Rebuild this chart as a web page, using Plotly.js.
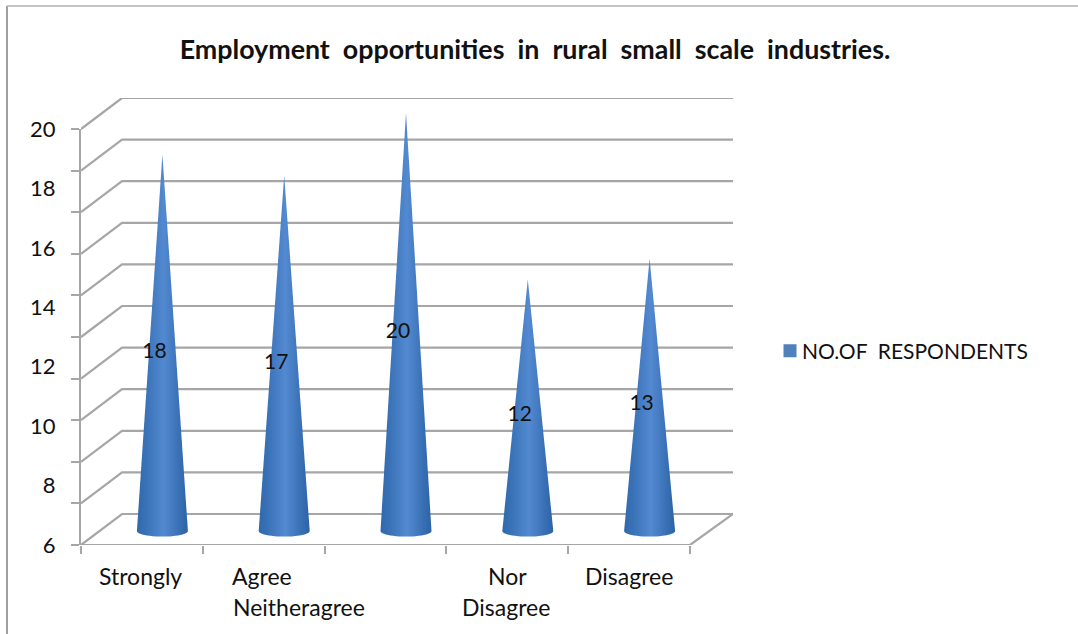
<!DOCTYPE html>
<html>
<head>
<meta charset="utf-8">
<script src="https://cdn.plot.ly/plotly-3.0.1.min.js"></script>
<style>html,body{margin:0;padding:0;background:#fff;overflow:hidden}</style>
</head>
<body>
<div id="chart" style="width:1078px;height:634px"></div>
<script>
// Data
var categoryPositions = [1, 2, 3, 4, 5];
var respondents = [18, 17, 20, 12, 13];
var seriesName = 'NO.OF\u00A0 RESPONDENTS';
var titleText = 'Employment\u00A0 opportunities\u00A0 in\u00A0 rural\u00A0 small\u00A0 scale\u00A0 industries.';
var wallTicks = [0, 2, 4, 6, 8, 10, 12, 14, 16, 18, 20];
var categoryLineText = ['Strongly', 'Agree', 'Neitheragree', 'Nor', 'Disagree', 'Disagree'];
var categoryLineSlot = [0.99, 1.99, 2.29, 4.0, 3.99, 5.0];
var categoryLineRow = [0, 0, 1, 0, 1, 0];

// Page geometry (pixels of the 1078x634 picture)
var W = 1078, H = 634;
var left = 81, right = 733, floorY = 545, labelTopY = 129, backTopY = 98;
function py(p) { return (H - p) / H; }
function px(p) { return p / W; }

// Fake depth of the 3D box, in axis units
var slotPx = 121.8, unitPx = 20.8;
var xMin = 0.5, xMax = xMin + (right - left) / slotPx, xFrontEnd = 5.5;
var depthX = 41 / slotPx, midX = 20.5 / slotPx;
var frontDy = -16 / unitPx, backDy = 15 / unitPx;

var gridColor = '#a6a6a6', textColor = '#111111', font = 'Lato, Carlito, sans-serif';

// Wall and floor lines
var wx = [], wy = [];
wallTicks.forEach(function (v) {
  wx.push(xMin, xMin + depthX, xMax, null);
  wy.push(v + frontDy, v + backDy, v + backDy, null);
});
wx.push(xMin, xFrontEnd, xMax, null);
wy.push(frontDy, frontDy, backDy, null);

var traces = [];
traces.push({ type: 'scatter', mode: 'lines', x: wx, y: wy, yaxis: 'y2', showlegend: false, hoverinfo: 'skip',
  line: { color: gridColor, width: 2.2 }, connectgaps: false });

// Helper traces so the two extra y axes are drawn
traces.push({ type: 'scatter', mode: 'none', x: [1], y: [6], yaxis: 'y', showlegend: false, hoverinfo: 'skip' });
traces.push({ type: 'scatter', mode: 'none', x: [1], y: [0], yaxis: 'y3', showlegend: false, hoverinfo: 'skip' });

// Cones
var halfW = 25.5 / slotPx, baseY = -0.1, arcH = 5.5 / unitPx;
categoryPositions.forEach(function (k, i) {
  var c = k + midX, xs = [c], ys = [respondents[i]];
  for (var a = 0; a <= 24; a++) {
    var t = Math.PI * a / 24;
    xs.push(c + halfW * Math.cos(t));
    ys.push(baseY - arcH * Math.sin(t));
  }
  xs.push(c); ys.push(respondents[i]);
  traces.push({ type: 'scatter', mode: 'none', x: xs, y: ys, yaxis: 'y2', fill: 'toself',
    showlegend: false, hoverinfo: 'skip',
    fillgradient: { type: 'horizontal', colorscale: [[0, '#2f68ac'], [0.18, '#3a72b8'], [0.52, '#5289d0'], [0.82, '#3a71b6'], [1, '#2c63a5']] } });
});

// Data labels
traces.push({ type: 'scatter', mode: 'text', yaxis: 'y2', showlegend: false, hoverinfo: 'skip',
  x: categoryPositions.map(function (k) { return k + midX - 8 / slotPx; }),
  y: respondents.map(function (v) { return v / 2 - 0.55; }),
  text: respondents.map(String), textposition: 'middle center',
  textfont: { family: font, size: 21, color: textColor } });

// Legend entry
traces.push({ type: 'scatter', mode: 'markers', name: seriesName, x: [null], y: [null], yaxis: 'y2',
  marker: { symbol: 'square', size: 13, color: '#4f81bd' }, hoverinfo: 'skip' });

var annotations = categoryLineText.map(function (t, i) {
  return { text: t, x: categoryLineSlot[i], xref: 'x', xanchor: 'center', showarrow: false,
    y: py(576 + 31 * categoryLineRow[i]), yref: 'paper', yanchor: 'middle',
    font: { family: font, size: 23, color: textColor } };
});

var hiddenY = { showgrid: false, zeroline: false, showticklabels: false, ticks: '', showline: false };

var layout = {
  width: W, height: H, margin: { l: 0, r: 0, t: 0, b: 0, pad: 0 },
  paper_bgcolor: '#ffffff', plot_bgcolor: 'rgba(0,0,0,0)',
  font: { family: font, color: textColor },
  title: { text: '<b>' + titleText + '</b>', x: px(535), xref: 'paper', xanchor: 'center',
    y: py(50), yref: 'paper', yanchor: 'middle', font: { family: font, size: 26.8, color: textColor } },
  xaxis: { domain: [px(left), px(right)], range: [xMin, xMax], anchor: 'y', tickmode: 'array',
    tickvals: [0.5, 1.5, 2.5, 3.5, 4.5, 5.5], showticklabels: false, ticks: 'outside', ticklen: 8,
    tickwidth: 2, tickcolor: gridColor, showgrid: false, zeroline: false, showline: false, fixedrange: true },
  // Printed labels of the reference: 6..20
  yaxis: { domain: [py(floorY), py(labelTopY)], range: [6, 20], dtick: 2, anchor: 'x', side: 'left',
    showgrid: false, zeroline: false, showline: false, ticks: 'outside', ticklen: 20, tickwidth: 0,
    tickcolor: 'rgba(0,0,0,0)', tickfont: { family: font, size: 22, color: textColor }, fixedrange: true },
  // Axis used by the cones and walls
  yaxis2: Object.assign({ domain: [py(floorY), py(backTopY)], anchor: 'x', side: 'left',
    range: [frontDy, 20 + backDy], fixedrange: true }, hiddenY),
  // Front axis line and its ticks
  yaxis3: { domain: [py(floorY), py(labelTopY)], range: [0, 20], dtick: 2, anchor: 'x', side: 'left',
    showgrid: false, zeroline: false, showticklabels: false, showline: true, linecolor: gridColor, linewidth: 2,
    ticks: 'outside', ticklen: 8, tickwidth: 2, tickcolor: gridColor, fixedrange: true },
  showlegend: true,
  legend: { x: px(770), xanchor: 'left', y: py(351), yanchor: 'middle', bgcolor: 'rgba(0,0,0,0)',
    font: { family: font, size: 21, color: textColor }, itemwidth: 30, indentation: -8 },
  annotations: annotations,
  shapes: [
    { type: 'line', xref: 'paper', yref: 'paper', x0: px(7), x1: px(7), y0: 0, y1: py(6), line: { color: '#a0a0a0', width: 2 } },
    { type: 'line', xref: 'paper', yref: 'paper', x0: px(7), x1: 1, y0: py(6), y1: py(6), line: { color: '#b0b0b0', width: 1.5 } }
  ]
};

Plotly.newPlot('chart', traces, layout, { displayModeBar: false, staticPlot: true }).then(function () {
  // The reference keeps its legend key closer to the text than the library's fixed gap
  var key = document.querySelector('.legend .legendpoints');
  if (key) key.setAttribute('transform', 'translate(8,0)');
});
</script>
</body>
</html>
